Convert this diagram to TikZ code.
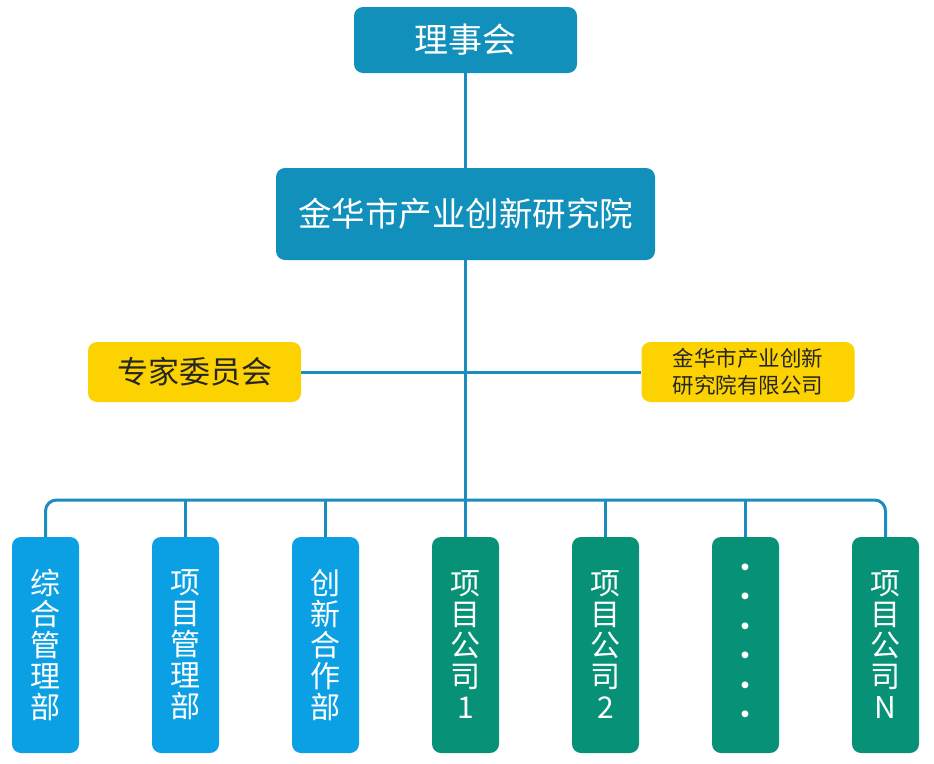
\documentclass[tikz,border=0pt]{standalone}
\usepackage{fontspec}
\setmainfont{Noto Sans CJK SC}
\definecolor{topblue}{HTML}{1290BC}
\definecolor{lightblue}{HTML}{0BA0E3}
\definecolor{deepgreen}{HTML}{079176}
\definecolor{gold}{HTML}{FCD200}
\definecolor{linec}{HTML}{1A8CC0}
\begin{document}
\begin{tikzpicture}[x=1pt,y=-1pt,
  box/.style={rounded corners=9pt, inner sep=0pt, align=center},
  topbox/.style={box, fill=topblue, text=white},
  yellowbox/.style={box, fill=gold, text=black!85, minimum width=213pt, minimum height=60pt},
  colbox/.style={box, text=white, minimum width=67pt, minimum height=216pt, font=\fontsize{30}{31}\selectfont},
  bluecol/.style={colbox, fill=lightblue},
  greencol/.style={colbox, fill=deepgreen},
  conn/.style={draw=linec, line width=3pt}]
\useasboundingbox (0,0) rectangle (934,763);
\node[topbox, minimum width=223pt, minimum height=66pt, font=\fontsize{34}{34}\selectfont] (board) at (465.5,40) {理事会};
\node[topbox, minimum width=379pt, minimum height=92pt, font=\fontsize{33.5}{33.5}\selectfont] (inst) at (465.5,214) {金华市产业创新研究院};
\node[yellowbox, font=\fontsize{31}{31}\selectfont] (expert) at (194.5,372) {专家委员会};
\node[yellowbox, font=\fontsize{21.5}{27}\selectfont] (company) at (748,372) {金华市产业创新\\研究院有限公司};
\node[bluecol] (b1) at (45.5,645) {综\\合\\管\\理\\部};
\node[bluecol] (b2) at (185.5,645) {项\\目\\管\\理\\部};
\node[bluecol] (b3) at (325.5,645) {创\\新\\合\\作\\部};
\node[greencol] (b4) at (465.5,645) {项\\目\\公\\司\\1};
\node[greencol] (b5) at (605.5,645) {项\\目\\公\\司\\2};
\node[greencol, font=\fontsize{32}{29.5}\selectfont] (b6) at (745.5,645) {·\\·\\·\\·\\·\\·};
\node[greencol] (b7) at (885.5,645) {项\\目\\公\\司\\N};
\coordinate (hub) at (465.5,500);
\draw[conn] (board.south) -- (inst.north);
\draw[conn] (inst.south) -- (hub);
\draw[conn] (expert.east) -- (company.west);
\draw[conn, rounded corners=11pt] (b1.north) |- (hub) -| (b7.north);
\foreach \b in {b2,b3,b4,b5,b6}
  \draw[conn] (\b.north) -- (\b.north |- hub);
\end{tikzpicture}
\end{document}
